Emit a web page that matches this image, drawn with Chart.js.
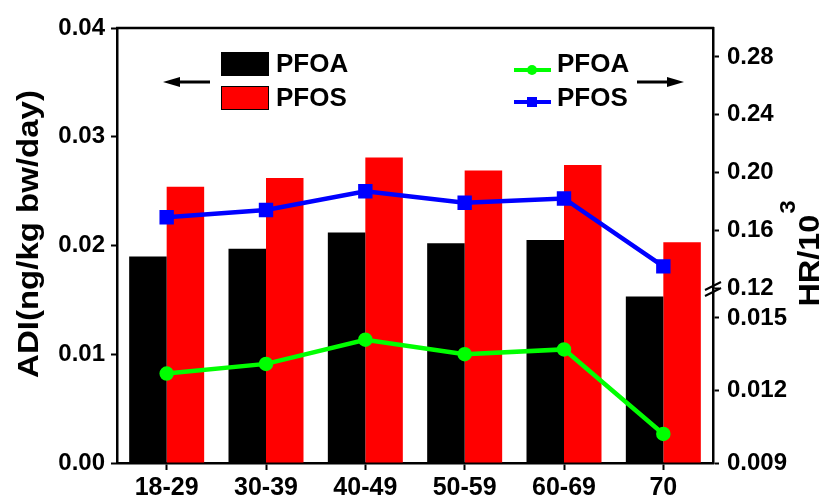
<!DOCTYPE html>
<html>
<head>
<meta charset="utf-8">
<script src="https://cdn.jsdelivr.net/npm/chart.js@4.4.0/dist/chart.umd.min.js"></script>
<style>
  html, body { margin: 0; padding: 0; background: #fff; }
</style>
</head>
<body>
<canvas id="myChart" width="825" height="502"></canvas>
<script>
// data
const ageGroups = ['18-29', '30-39', '40-49', '50-59', '60-69', '70'];
const adiPFOA = [0.0190, 0.0197, 0.0212, 0.0202, 0.0205, 0.0153];
const adiPFOS = [0.0254, 0.0262, 0.0281, 0.0269, 0.0274, 0.0203];
const hrPFOA = [0.0127, 0.0131, 0.0141, 0.0135, 0.0137, 0.0102];
const hrPFOS = [0.169, 0.174, 0.187, 0.179, 0.182, 0.135];

const adiTicks = [0, 0.01, 0.02, 0.03, 0.04];
const hrHighTicks = [0.12, 0.16, 0.20, 0.24, 0.28];
const hrLowTicks = [0.009, 0.012, 0.015];

const fam = "'Liberation Sans', Arial, Helvetica, sans-serif";
Chart.defaults.font.family = fam;
Chart.defaults.font.weight = 'bold';
Chart.defaults.color = '#000';

function tickGrid(len) {
  return { display: true, drawOnChartArea: false, drawTicks: true, tickLength: len, tickWidth: 2, color: '#000' };
}
const axisBorder = { color: '#000', width: 2.5 };

function arrow(ctx, x1, x2, y) {
  const dir = Math.sign(x2 - x1);
  ctx.beginPath();
  ctx.moveTo(x1, y);
  ctx.lineTo(x2 - dir * 10, y);
  ctx.lineWidth = 3;
  ctx.strokeStyle = '#000';
  ctx.stroke();
  ctx.beginPath();
  ctx.moveTo(x2, y);
  ctx.lineTo(x2 - dir * 17, y - 5);
  ctx.lineTo(x2 - dir * 17, y + 5);
  ctx.closePath();
  ctx.fillStyle = '#000';
  ctx.fill();
}

const extras = {
  id: 'extras',
  afterDraw(chart) {
    const ctx = chart.ctx;
    const area = chart.chartArea;
    const ds = chart.data.datasets;
    ctx.save();

    // top frame line
    ctx.beginPath();
    ctx.moveTo(area.left - 1, area.top);
    ctx.lineTo(area.right + 1, area.top);
    ctx.lineWidth = 2.5;
    ctx.strokeStyle = '#000';
    ctx.stroke();

    // axis break on the right axis
    const bx = chart.scales.yHi.left;
    const by = chart.scales.yHi.bottom + 1;
    ctx.lineWidth = 2;
    [-3, 3].forEach(off => {
      ctx.beginPath();
      ctx.moveTo(bx - 8, by + off + 4);
      ctx.lineTo(bx + 8, by + off - 4);
      ctx.stroke();
    });

    // bar legend
    ctx.font = 'bold 26px ' + fam;
    ctx.textBaseline = 'middle';
    ctx.textAlign = 'left';
    const barLeg = [ds[2], ds[3]];
    barLeg.forEach((d, i) => {
      const y = 52 + i * 34;
      ctx.fillStyle = d.backgroundColor;
      ctx.fillRect(221, y, 48, 24);
      ctx.lineWidth = 1;
      ctx.strokeStyle = '#000';
      ctx.strokeRect(221.5, y + 0.5, 47, 23);
      ctx.fillStyle = '#000';
      ctx.fillText(d.label, 276, y + 13);
    });

    // line legend
    const lineLeg = [ds[0], ds[1]];
    lineLeg.forEach((d, i) => {
      const y = 70 + i * 32;
      ctx.beginPath();
      ctx.moveTo(514, y);
      ctx.lineTo(551, y);
      ctx.lineWidth = 4;
      ctx.strokeStyle = d.borderColor;
      ctx.stroke();
      ctx.fillStyle = d.borderColor;
      if (d.pointStyle === 'rect') {
        ctx.fillRect(527, y - 5, 10, 10);
      } else {
        ctx.beginPath();
        ctx.arc(532, y, 5, 0, Math.PI * 2);
        ctx.fill();
      }
      ctx.fillStyle = '#000';
      ctx.fillText(d.label, 557, y - 5 + i * 2);
    });

    arrow(ctx, 210, 163, 82);
    arrow(ctx, 637, 684, 82);

    // left axis title
    ctx.save();
    ctx.translate(30, 234);
    ctx.rotate(-Math.PI / 2);
    ctx.scale(1.1, 1);
    ctx.textAlign = 'center';
    ctx.textBaseline = 'middle';
    ctx.font = 'bold 30px ' + fam;
    ctx.fillText('ADI(ng/kg bw/day)', 0, 0);
    ctx.restore();

    // right axis title, reads bottom to top like the left one
    ctx.translate(805, 254);
    ctx.rotate(-Math.PI / 2);
    ctx.scale(1.08, 1);
    ctx.textAlign = 'left';
    ctx.textBaseline = 'alphabetic';
    ctx.font = 'bold 30px ' + fam;
    const main = 'HR/10';
    const w = ctx.measureText(main).width;
    ctx.font = 'bold 22px ' + fam;
    const ws = ctx.measureText('3').width;
    const x0 = -(w + ws) / 2;
    ctx.font = 'bold 30px ' + fam;
    ctx.fillText(main, x0, 14);
    ctx.font = 'bold 22px ' + fam;
    ctx.fillText('3', x0 + w + 1, -10);

    ctx.restore();
  }
};

const ctx = document.getElementById('myChart').getContext('2d');
new Chart(ctx, {
  type: 'bar',
  data: {
    labels: ageGroups,
    datasets: [
      {
        type: 'line', label: 'PFOA', data: hrPFOA, yAxisID: 'yLo', order: 0,
        borderColor: '#00ff00', backgroundColor: '#00ff00', borderWidth: 4.5,
        pointStyle: 'circle', pointRadius: 5, tension: 0
      },
      {
        type: 'line', label: 'PFOS', data: hrPFOS, yAxisID: 'yHi', order: 0,
        borderColor: '#0000ff', backgroundColor: '#0000ff', borderWidth: 4.5,
        pointStyle: 'rect', pointRadius: 7, tension: 0
      },
      {
        label: 'PFOA', data: adiPFOA, yAxisID: 'y', order: 1,
        backgroundColor: '#000000', barPercentage: 1.0, categoryPercentage: 0.755
      },
      {
        label: 'PFOS', data: adiPFOS, yAxisID: 'y', order: 1,
        backgroundColor: '#ff0000', barPercentage: 1.0, categoryPercentage: 0.755
      }
    ]
  },
  options: {
    responsive: false,
    animation: false,
    events: [],
    layout: { padding: { top: 28, left: 0, right: 0, bottom: 0 } },
    plugins: { legend: { display: false }, tooltip: { enabled: false } },
    scales: {
      x: {
        offset: true,
        grid: { display: true, offset: false, drawOnChartArea: false, tickLength: 7, tickWidth: 2, color: '#000' },
        border: axisBorder,
        ticks: { font: { size: 25, weight: 'bold' }, padding: 3, maxRotation: 0, autoSkip: false },
        afterFit: s => { s.height = 39; }
      },
      y: {
        position: 'left',
        min: 0, max: 0.04,
        afterBuildTicks: s => { s.ticks = adiTicks.map(v => ({ value: v })); },
        ticks: { font: { size: 24, weight: 'bold' }, padding: 6, callback: v => v.toFixed(2) },
        grid: tickGrid(6),
        border: axisBorder,
        afterFit: s => { s.width = 117; }
      },
      yHi: {
        position: 'right', stack: 'hr', stackWeight: 260,
        min: 0.12, max: 0.30,
        afterBuildTicks: s => { s.ticks = hrHighTicks.map(v => ({ value: v })); },
        ticks: { font: { size: 24, weight: 'bold' }, padding: 8, callback: v => v.toFixed(2) },
        grid: tickGrid(6),
        border: axisBorder,
        afterFit: s => { s.width = 112; }
      },
      yLo: {
        position: 'right', stack: 'hr', stackWeight: 175,
        min: 0.009, max: 0.01624,
        afterBuildTicks: s => { s.ticks = hrLowTicks.map(v => ({ value: v })); },
        ticks: { font: { size: 24, weight: 'bold' }, padding: 8, callback: v => v.toFixed(3) },
        grid: tickGrid(6),
        border: axisBorder,
        afterFit: s => { s.width = 112; }
      }
    }
  },
  plugins: [extras]
});
</script>
</body>
</html>
